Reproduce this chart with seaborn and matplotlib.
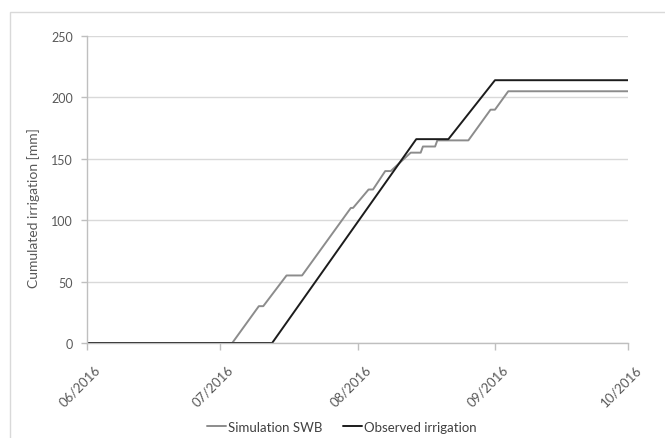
import matplotlib
matplotlib.use("Agg")
import matplotlib.pyplot as plt
import matplotlib.dates as mdates
import matplotlib.transforms as mtransforms
from matplotlib.patches import Rectangle
import pandas as pd
import seaborn as sns

# ---- data ----
sim_dates = ["2016-06-01 00:00", "2016-07-03 18:00", "2016-07-09 18:00", "2016-07-10 18:00",
             "2016-07-16 00:00", "2016-07-19 12:00", "2016-07-30 12:00", "2016-07-31 00:00",
             "2016-08-03 12:00", "2016-08-04 12:00", "2016-08-07 06:00", "2016-08-08 12:00",
             "2016-08-13 00:00", "2016-08-15 06:00", "2016-08-15 18:00", "2016-08-18 12:00",
             "2016-08-19 00:00", "2016-08-26 00:00", "2016-08-31 00:00", "2016-09-01 00:00",
             "2016-09-04 00:00", "2016-10-01 00:00"]
sim_values = [0, 0, 30, 30, 55, 55, 110, 110, 125, 125, 140, 140, 155, 155, 160, 160,
              165, 165, 190, 190, 205, 205]

obs_dates = ["2016-06-01 00:00", "2016-07-12 18:00", "2016-08-14 06:00", "2016-08-21 12:00",
             "2016-09-01 00:00", "2016-10-01 00:00"]
obs_values = [0, 0, 166, 166, 214, 214]

series_names = ["Simulation SWB", "Observed irrigation"]
series_colors = ["#8c8c8c", "#1c1c1c"]
y_ticks = [0, 50, 100, 150, 200, 250]
y_label = "Cumulated irrigation [mm]"

fmt = "%Y-%m-%d %H:%M"
df = pd.concat([
    pd.DataFrame({"date": pd.to_datetime(sim_dates, format=fmt), "value": sim_values,
                  "series": series_names[0]}),
    pd.DataFrame({"date": pd.to_datetime(obs_dates, format=fmt), "value": obs_values,
                  "series": series_names[1]}),
], ignore_index=True)

sns.set_style("white")
plt.rcParams["font.family"] = ["Lato", "DejaVu Sans"]

fig = plt.figure(figsize=(6.65, 4.39), dpi=100)
ax = fig.add_axes([87 / 665, 1 - 344 / 439, (628 - 87) / 665, (344 - 37) / 439])

sns.lineplot(data=df, x="date", y="value", hue="series", palette=series_colors,
             hue_order=series_names, linewidth=1.4, ax=ax, estimator=None, sort=False)

ax.set_xlim(pd.Timestamp("2016-06-01"), pd.Timestamp("2016-10-01"))
ax.set_ylim(0, 250)
ax.set_yticks(y_ticks)
ax.xaxis.set_major_locator(mdates.MonthLocator())
ax.xaxis.set_major_formatter(mdates.DateFormatter("%m/%Y"))

ax.grid(axis="y", color="#d9d9d9", linewidth=1.0)
ax.grid(axis="x", visible=False)
ax.set_axisbelow(True)
for s in ["top", "right"]:
    ax.spines[s].set_visible(False)
ax.spines["left"].set_color("#bfbfbf")
ax.spines["bottom"].set_color("#bfbfbf")
ax.spines["left"].set_linewidth(1.0)
ax.spines["bottom"].set_linewidth(1.0)

ax.tick_params(axis="y", direction="out", length=4, width=1, color="#bfbfbf",
               labelsize=9, labelcolor="#595959", pad=6, left=True)
ax.tick_params(axis="x", direction="out", length=5, width=1, color="#bfbfbf",
               labelsize=9.5, labelcolor="#595959", pad=9, bottom=True)
shift = mtransforms.ScaledTranslation(7 / 100, 0, fig.dpi_scale_trans)
for lbl in ax.get_xticklabels():
    lbl.set_rotation(45)
    lbl.set_ha("right")
    lbl.set_rotation_mode("anchor")
    lbl.set_transform(lbl.get_transform() + shift)

ax.set_xlabel("")
ax.set_ylabel(y_label, fontsize=10, color="#595959")
ax.yaxis.set_label_coords((40 - 87) / 541, (344 - 208) / 307)

leg = ax.legend(loc="center", bbox_to_anchor=(342 / 665, 1 - 428 / 439),
                bbox_transform=fig.transFigure, ncol=2, frameon=False, fontsize=9.5,
                handlelength=1.4, handletextpad=0.15, columnspacing=1.6)
for t in leg.get_texts():
    t.set_color("#404040")

# outer chart border (partly cut off at right and bottom)
fig.patches.append(Rectangle((10 / 665, -0.05), 1.0, 1 - 13 / 439 + 0.05,
                             transform=fig.transFigure, fill=False,
                             edgecolor="#d9d9d9", linewidth=1.0))

fig.savefig("out.png", dpi=100)
